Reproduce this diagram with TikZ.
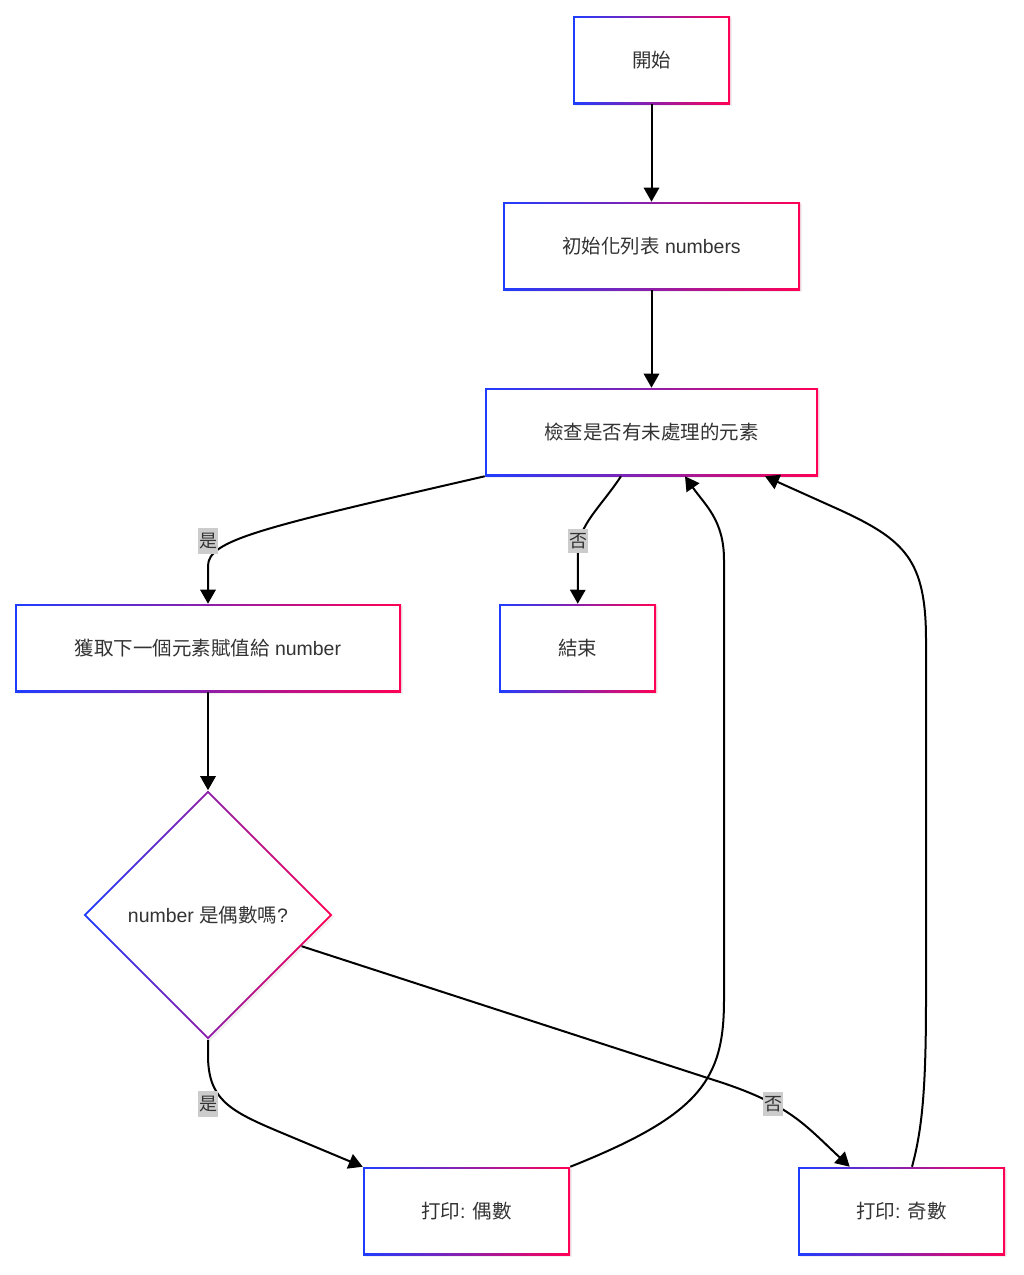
\documentclass[tikz,border=0pt]{standalone}
\usepackage{fontspec}
\setmainfont{Liberation Sans}
\newfontfamily\cjk{Noto Sans CJK TC}
\usetikzlibrary{shapes.geometric,arrows.meta,calc,shadows}
\definecolor{cblue}{HTML}{1F3DFF}
\definecolor{cred}{HTML}{FF0055}
\definecolor{ctext}{HTML}{333333}
\begin{document}
\begin{tikzpicture}[x=0.75pt,y=-0.75pt,font=\fontsize{14.6}{17}\selectfont,
  box/.style={rectangle,minimum height=66pt,inner sep=0pt,text=ctext,left color=cblue,right color=cred,drop shadow={opacity=0.12,shadow xshift=1.5pt,shadow yshift=-1.5pt},
    path picture={\fill[white] ([shift={(1.5pt,1.5pt)}]path picture bounding box.south west) rectangle ([shift={(-1.5pt,-1.5pt)}]path picture bounding box.north east);}},
  dia/.style={diamond,aspect=1,minimum width=186.75pt,minimum height=186.75pt,inner sep=0pt,text=ctext,left color=cblue,right color=cred,drop shadow={opacity=0.12,shadow xshift=1.5pt,shadow yshift=-1.5pt},
    path picture={\fill[white] ([xshift=2.1pt]path picture bounding box.west) -- ([yshift=-2.1pt]path picture bounding box.north) -- ([xshift=-2.1pt]path picture bounding box.east) -- ([yshift=2.1pt]path picture bounding box.south) -- cycle;}},
  e/.style={draw=black,line width=1.5pt,-{Triangle[length=10.5pt,width=11.5pt]}},
  lbl/.style={fill=black!20,text=ctext,inner xsep=1pt,inner ysep=3.5pt,font=\cjk\fontsize{13.5}{15}\selectfont}]
\useasboundingbox (0,0) rectangle (1024,1275);
% nodes
\node[box,minimum width=117.75pt] (start) at (651.5,60) {\cjk 開始};
\node[box,minimum width=222.75pt] (init) at (651.5,246) {{\cjk 初始化列表} numbers};
\node[box,minimum width=249.75pt] (check) at (651.5,432) {\cjk 檢查是否有未處理的元素};
\node[box,minimum width=289.5pt] (get) at (208,648) {{\cjk 獲取下一個元素賦值給} number};
\node[box,minimum width=117.75pt] (done) at (577.5,648) {\cjk 結束};
\node[dia] (iseven) at (208,915) {number {\cjk 是偶數嗎}?};
\node[box,minimum width=155.25pt] (even) at (466.5,1211) {{\cjk 打印}: {\cjk 偶數}};
\node[box,minimum width=155.25pt] (odd) at (901.5,1211) {{\cjk 打印}: {\cjk 奇數}};
% edges
\draw[e] (start) -- (init);
\draw[e] (init) -- (check);
\draw[e] (check.south west) .. controls (260,528) and (208,540) .. (208,566) -- (get);
\draw[e] ($(check.south)+(-30.5,0)$) .. controls (600,508) and (578,525) .. (578,552) -- (done);
\draw[e] (get) -- (iseven);
\draw[e] (iseven.south) -- (208,1055) .. controls (208,1098) and (228,1110) .. (275,1130) -- (even.north west);
\draw[e] ($(iseven.east)!0.25!(iseven.south)$) -- (720,1082) .. controls (790,1105) and (805,1125) .. ($(odd.north west)+(52,0)$);
\draw[e] (even.north east) .. controls (700,1115) and (724,1080) .. (724,1000) -- (724,560) .. controls (724,520) and (705,505) .. ($(check.south)+(33.5,0)$);
\draw[e] ($(odd.north)+(10.5,0)$) .. controls (922,1130) and (926,1090) .. (926,1000) -- (926,640) .. controls (926,560) and (905,540) .. (840,510) -- ($(check.south)+(113.5,0)$);
% edge labels
\foreach \n/\x/\y/\t in {yesa/208/541/是,noa/578/541/否,yesb/208/1104/是,nob/773/1104/否} {\node[lbl] (\n) at (\x,\y) {\t};}
\end{tikzpicture}
\end{document}
